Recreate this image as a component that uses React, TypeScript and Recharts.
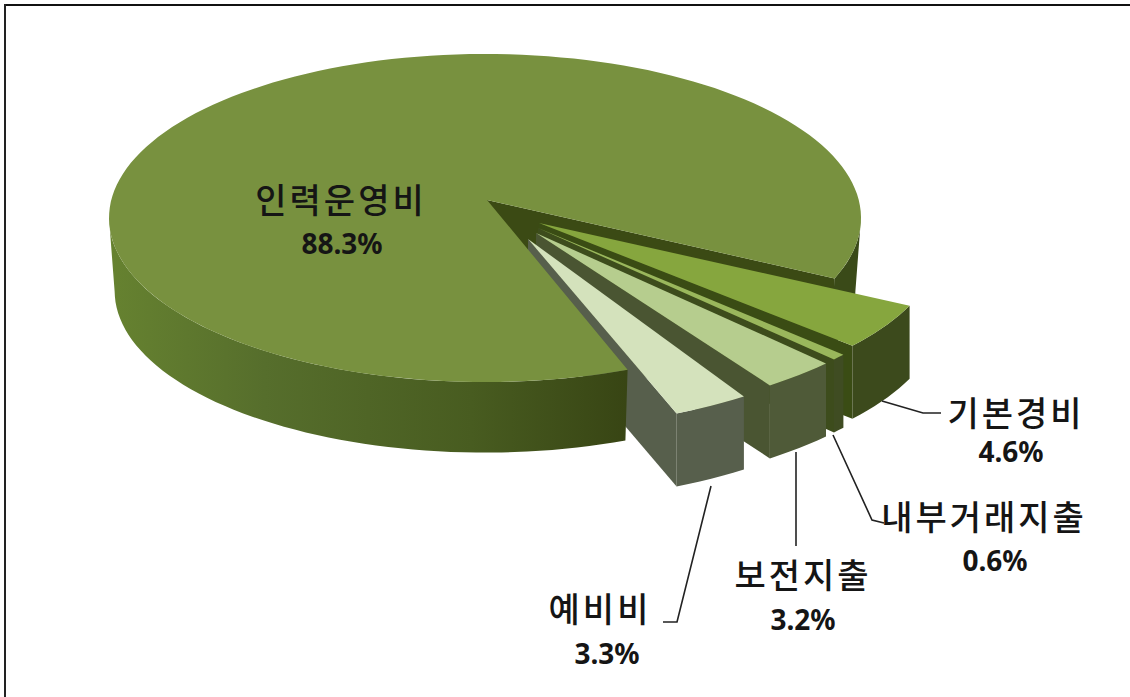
import React from "react";
import { PieChart, Pie } from "recharts";

const categories = ["기본경비", "내부거래지출", "보전지출", "예비비", "인력운영비"];
const shares = [4.6, 0.6, 3.2, 3.3, 88.3];
const topColors = ["#86a63e", "#9ab75c", "#b6cd8e", "#d4e2bc", "#78913f"];
const wallColors = ["#3c4a1c", "#3f4c22", "#4f5a38", "#575f4c", "#3a4a18"];

const data = categories.map((name, i) => ({ name, value: shares[i], top: topColors[i], wall: wallColors[i] }));

const CX = 485;
const CY = 218;
const RX = 376;
const RY = 164;
const DEPTH = 73;
const MAIN = "인력운영비";
const NOTCH_PAD = 2;
const MAIN_APEX = { x: 2, y: -18 };

// Pull-out of each slice from the pie, and where its tip sits, relative to the pie centre (px).
const sliceLayout: Record<string, { ox: number; oy: number; ax: number; ay: number; gap: string }> = {
  기본경비: { ox: 80, oy: 22, ax: 54, ay: 5, gap: "#3a4c14" },
  내부거래지출: { ox: 71, oy: 31, ax: 53, ay: 10, gap: "#3d4c1c" },
  보전지출: { ox: 63, oy: 35, ax: 51, ay: 15, gap: "#4a5532" },
  예비비: { ox: 37, oy: 46, ax: 43, ay: 21, gap: "#575f4c" },
};

type LabelSpec = { nameX: number; nameY: number; pctX: number; pctY: number; line?: number[][] };
const labelSpecs: Record<string, LabelSpec> = {
  인력운영비: { nameX: 341, nameY: 198, pctX: 342, pctY: 243 },
  기본경비: { nameX: 1016, nameY: 411, pctX: 1011, pctY: 451, line: [[882, 401], [923, 413], [941, 413]] },
  내부거래지출: { nameX: 984, nameY: 515, pctX: 995, pctY: 560, line: [[833, 435], [872, 520], [884, 523]] },
  보전지출: { nameX: 803, nameY: 573, pctX: 803, pctY: 619, line: [[796, 452], [796, 546]] },
  예비비: { nameX: 600, nameY: 607, pctX: 607, pctY: 653, line: [[711, 486], [677, 622], [663, 622]] },
};

const rad = (a: number) => (a * Math.PI) / 180;
const pt = (a: number, ox = 0, oy = 0, dz = 0, s = 1) => ({
  x: CX + ox + RX * s * Math.cos(rad(a)),
  y: CY + oy + dz - RY * s * Math.sin(rad(a)),
});
const arcPts = (a0: number, a1: number, ox = 0, oy = 0, dz = 0, s = 1) => {
  const n = Math.max(2, Math.ceil(Math.abs(a1 - a0) / 2));
  const out: { x: number; y: number }[] = [];
  for (let i = 0; i <= n; i++) out.push(pt(a0 + ((a1 - a0) * i) / n, ox, oy, dz, s));
  return out;
};
const poly = (ps: { x: number; y: number }[]) =>
  "M" + ps.map((p) => `${p.x.toFixed(1)} ${p.y.toFixed(1)}`).join("L") + "Z";
const wall = (a0: number, a1: number, ox = 0, oy = 0, s = 0.985) =>
  poly([...arcPts(a0, a1, ox, oy), ...arcPts(a1, a0, ox, oy, DEPTH, s)]);

const backLayer = (props: any) => {
  if (props.name !== MAIN) return <g />;
  const end = props.endAngle + NOTCH_PAD;
  const apex = { x: CX + MAIN_APEX.x, y: CY + MAIN_APEX.y };
  const edge = pt(end);
  const notch = poly([apex, edge, { x: edge.x, y: edge.y + DEPTH }, { x: apex.x, y: apex.y + DEPTH }]);
  return (
    <g>
      <path d={notch} fill="#3b4a14" />
      <path d={wall(0, end + 360)} fill="#3a4a18" />
    </g>
  );
};

const frontLayer = (props: any) => {
  const { name, startAngle, endAngle } = props;
  const color = props.top ?? props.payload?.top;
  const wallColor = props.wall ?? props.payload?.wall;
  if (name === MAIN) {
    const start = startAngle - NOTCH_PAD;
    const end = endAngle + NOTCH_PAD;
    const apex = { x: CX + MAIN_APEX.x, y: CY + MAIN_APEX.y };
    return (
      <g>
        <defs>
          <linearGradient id="mainWall" gradientUnits="userSpaceOnUse" x1={110} y1={0} x2={626} y2={0}>
            <stop offset="0" stopColor="#668230" />
            <stop offset="0.3" stopColor="#566e2c" />
            <stop offset="0.7" stopColor="#485c20" />
            <stop offset="1" stopColor="#384514" />
          </linearGradient>
        </defs>
        <path d={wall(start, -180)} fill="url(#mainWall)" />
        <path d={poly([apex, ...arcPts(end, start)])} fill={color} />
      </g>
    );
  }
  const layout = sliceLayout[name];
  const { ox, oy } = layout;
  const apex = { x: CX + layout.ax, y: CY + layout.ay };
  const lower = pt(endAngle, ox, oy);
  const radial = poly([apex, lower, { x: lower.x, y: lower.y + DEPTH }, { x: apex.x, y: apex.y + DEPTH }]);
  return (
    <g>
      <path d={radial} fill={layout.gap} />
      <path d={wall(startAngle, endAngle, ox, oy, 1)} fill={wallColor} />
      <path d={poly([apex, ...arcPts(startAngle, endAngle, ox, oy)])} fill={color} />
    </g>
  );
};

const renderLabel = (props: any) => {
  const name = props.name;
  const spec = labelSpecs[name];
  if (!spec) return null;
  return (
    <g>
      {spec.line && (
        <polyline points={spec.line.map((p) => p.join(",")).join(" ")} fill="none" stroke="#222" strokeWidth={1.6} />
      )}
      <text
        x={spec.nameX}
        y={spec.nameY}
        textAnchor="middle"
        dominantBaseline="central"
        fontFamily="'Noto Sans CJK KR', sans-serif"
        fontSize={34}
        fontWeight={500}
        letterSpacing={3}
        fill="#151515"
      >
        {name}
      </text>
      <text
        x={spec.pctX}
        y={spec.pctY}
        textAnchor="middle"
        dominantBaseline="central"
        fontFamily="'Noto Sans', sans-serif"
        fontSize={28}
        fontWeight={700}
        fill="#151515"
      >
        {`${props.value}%`}
      </text>
    </g>
  );
};

export default function App() {
  const common = {
    data,
    dataKey: "value",
    nameKey: "name",
    cx: CX,
    cy: CY,
    innerRadius: 0,
    outerRadius: RX,
    startAngle: -23.6,
    endAngle: -383.6,
    stroke: "none",
    isAnimationActive: false,
  };
  return (
    <div style={{ position: "absolute", left: 0, top: 0, width: 1130, height: 697, background: "#fff", overflow: "hidden" }}>
      <div style={{ position: "absolute", left: 4, top: 4, width: 1126, height: 2, background: "#111" }} />
      <div style={{ position: "absolute", left: 4, top: 4, width: 2, height: 693, background: "#222" }} />
      <div style={{ position: "absolute", left: 0, top: 0 }}>
        <PieChart width={1130} height={697} margin={{ top: 0, right: 0, bottom: 0, left: 0 }}>
          <Pie {...common} shape={backLayer} label={false} labelLine={false} />
          <Pie {...common} shape={frontLayer} label={renderLabel} labelLine={false} />
        </PieChart>
      </div>
    </div>
  );
}
